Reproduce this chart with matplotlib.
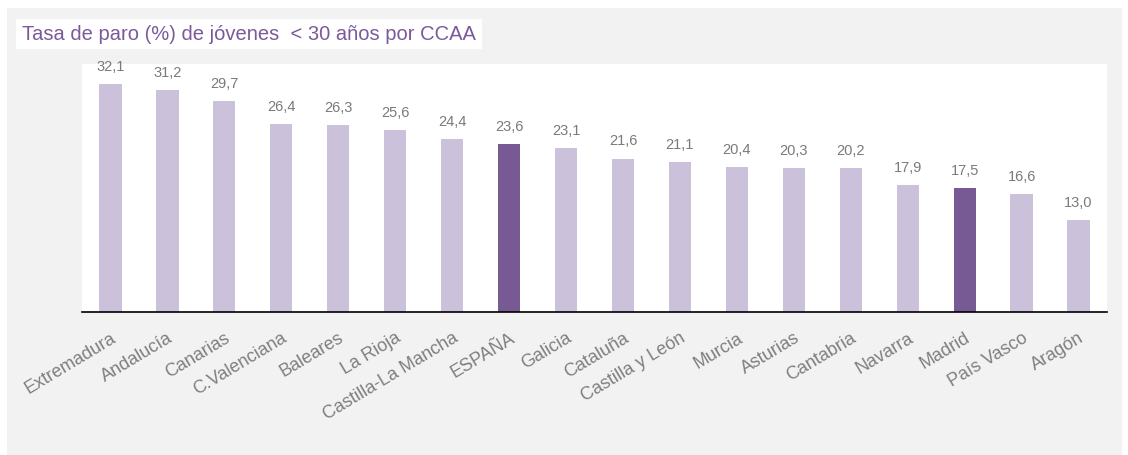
import matplotlib.pyplot as plt
from matplotlib.patches import Rectangle

regiones = ['Extremadura', 'Andalucía', 'Canarias', 'C.Valenciana', 'Baleares', 'La Rioja',
            'Castilla-La Mancha', 'ESPAÑA', 'Galicia', 'Cataluña', 'Castilla y León', 'Murcia',
            'Asturias', 'Cantabria', 'Navarra', 'Madrid', 'País Vasco', 'Aragón']
tasa_paro = [32.1, 31.2, 29.7, 26.4, 26.3, 25.6, 24.4, 23.6, 23.1, 21.6, 21.1, 20.4,
             20.3, 20.2, 17.9, 17.5, 16.6, 13.0]
destacadas = ['ESPAÑA', 'Madrid']

color_claro = '#cbc1db'
color_oscuro = '#775a93'
gris = '#7f7f7f'

plt.rcParams['font.family'] = ['Liberation Sans', 'DejaVu Sans']

fig = plt.figure(figsize=(11.28, 4.56), dpi=100)
fig.patches.append(Rectangle((7 / 1128, 0), 1115 / 1128, 447 / 456, transform=fig.transFigure,
                             facecolor='#f2f2f2', edgecolor='none', zorder=-10))

ax = fig.add_axes([82 / 1128, 1 - 313 / 456, 1025 / 1128, 248 / 456], zorder=5)
colores = [color_oscuro if r in destacadas else color_claro for r in regiones]
x = range(len(regiones))
bars = ax.bar(x, tasa_paro, width=0.39, color=colores)

for b, v in zip(bars, tasa_paro):
    ax.annotate(f'{v:.1f}'.replace('.', ','), (b.get_x() + b.get_width() / 2, v),
                xytext=(0, 8), textcoords='offset points', ha='center', va='bottom',
                fontsize=10.5, color='#7a7a7a', annotation_clip=False)

ax.set_xlim(-0.5, len(regiones) - 0.5)
ax.set_ylim(0, 34.9)
ax.set_yticks([])
ax.set_xticks(list(x))
ax.set_xticklabels(regiones, rotation=31, ha='right', rotation_mode='anchor',
                   fontsize=13, color=gris)
ax.tick_params(axis='x', length=0, pad=12)
for s in ['top', 'left', 'right']:
    ax.spines[s].set_visible(False)
ax.spines['bottom'].set_linewidth(1.2)
ax.spines['bottom'].set_color('black')

fig.text(22 / 1128, 1 - 35 / 456, 'Tasa de paro (%) de jóvenes  < 30 años por CCAA',
         fontsize=14.5, color='#7b5a9b', va='center', ha='left', zorder=10,
         bbox=dict(facecolor='white', edgecolor='none', pad=4))

fig.savefig('out.png', dpi=100)
